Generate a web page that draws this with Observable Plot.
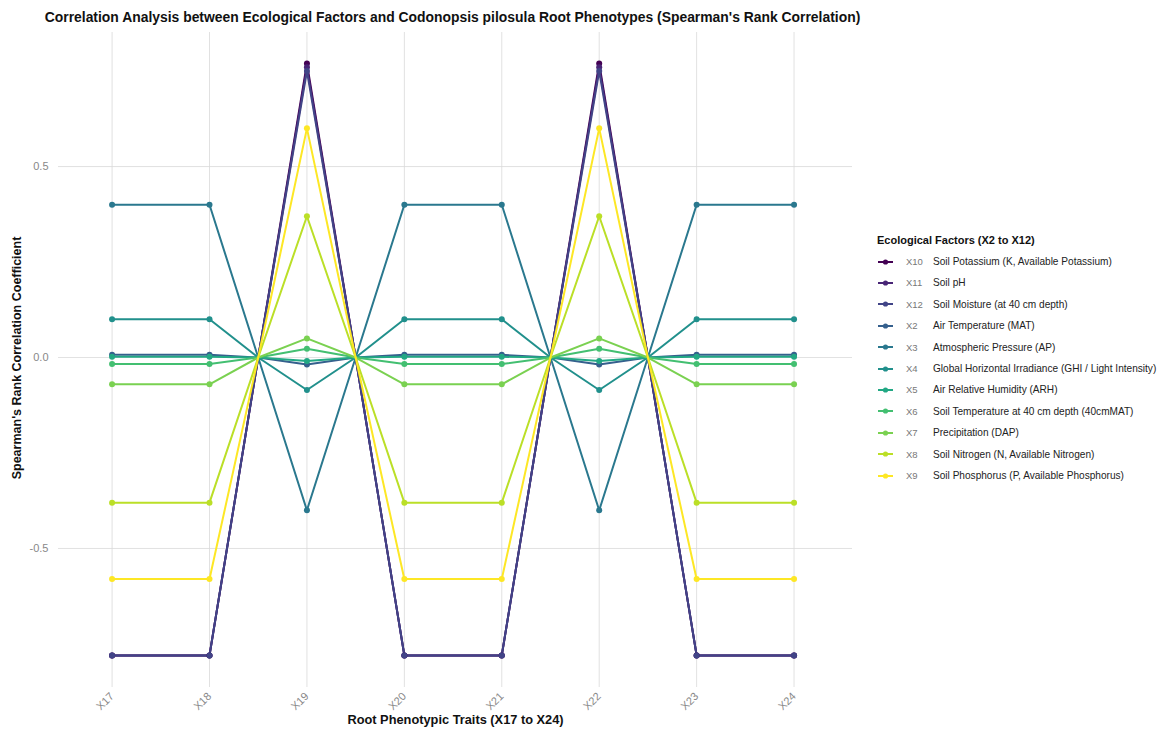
<!DOCTYPE html>
<html>
<head>
<meta charset="utf-8">
<script src="https://cdn.jsdelivr.net/npm/d3@7"></script>
<script src="https://cdn.jsdelivr.net/npm/@observablehq/plot@0.6"></script>
<style>
  body { margin: 0; background: #fff; }
  #wrap { position: relative; width: 1168px; height: 731px; font-family: "Liberation Sans", Arial, sans-serif; overflow: hidden; }
  #title { position: absolute; left: 0; top: 9px; width: 905px; text-align: center; font-weight: bold; font-size: 13.9px; color: #111; line-height: 17px; white-space: nowrap; }
  #chart { position: absolute; left: 0; top: 0; }
  #legend { position: absolute; left: 877px; top: 232px; }
  #legend .ttl { font-weight: bold; font-size: 11px; color: #111; height: 16px; line-height: 16px; margin-bottom: 3px; }
  #legend .row { position: relative; height: 21.4px; display: flex; align-items: center; }
  #legend .row svg { position: absolute; left: 0; top: 5.7px; }
  #legend .code { position: absolute; left: 29px; font-size: 9.5px; color: #777; line-height: 21.4px; }
  #legend .name { position: absolute; left: 56px; font-size: 10.1px; color: #222; line-height: 21.4px; white-space: nowrap; }
</style>
</head>
<body>
<div id="wrap">
  <div id="title"></div>
  <div id="chart"></div>
  <div id="legend"></div>
</div>
<script>
// ---------- data ----------
const chartTitle = "Correlation Analysis between Ecological Factors and Codonopsis pilosula Root Phenotypes (Spearman's Rank Correlation)";
const xTitle = "Root Phenotypic Traits (X17 to X24)";
const yTitle = "Spearman's Rank Correlation Coefficient";
const legendTitle = "Ecological Factors (X2 to X12)";

// trait positions along the x axis (half steps are the unlabeled zero crossings)
const traitIds = [17, 18, 18.5, 19, 19.5, 20, 21, 21.5, 22, 22.5, 23, 24];
const tickValues = [17, 18, 19, 20, 21, 22, 23, 24];
const tickLabels = ["X17", "X18", "X19", "X20", "X21", "X22", "X23", "X24"];
const yTicks = [-0.5, 0, 0.5];

const factorCodes = ["X10", "X11", "X12", "X2", "X3", "X4", "X5", "X6", "X7", "X8", "X9"];
const factorNames = [
  "Soil Potassium (K, Available Potassium)",
  "Soil pH",
  "Soil Moisture (at 40 cm depth)",
  "Air Temperature (MAT)",
  "Atmospheric Pressure (AP)",
  "Global Horizontal Irradiance (GHI / Light Intensity)",
  "Air Relative Humidity (ARH)",
  "Soil Temperature at 40 cm depth (40cmMAT)",
  "Precipitation (DAP)",
  "Soil Nitrogen (N, Available Nitrogen)",
  "Soil Phosphorus (P, Available Phosphorus)"
];
const factorColors = ["#440154", "#482576", "#414487", "#35608D", "#2A788E", "#21908C", "#22A884", "#43BF71", "#7AD151", "#BBDF27", "#FDE725"];

const valsX10 = [-0.78, -0.78, 0, 0.77, 0, -0.78, -0.78, 0, 0.77, 0, -0.78, -0.78];
const valsX11 = [-0.78, -0.78, 0, 0.76, 0, -0.78, -0.78, 0, 0.76, 0, -0.78, -0.78];
const valsX12 = [-0.78, -0.78, 0, 0.75, 0, -0.78, -0.78, 0, 0.75, 0, -0.78, -0.78];
const valsX2  = [0.007, 0.007, 0, -0.018, 0, 0.007, 0.007, 0, -0.018, 0, 0.007, 0.007];
const valsX3  = [0.40, 0.40, 0, -0.40, 0, 0.40, 0.40, 0, -0.40, 0, 0.40, 0.40];
const valsX4  = [0.10, 0.10, 0, -0.085, 0, 0.10, 0.10, 0, -0.085, 0, 0.10, 0.10];
const valsX5  = [0.002, 0.002, 0, -0.009, 0, 0.002, 0.002, 0, -0.009, 0, 0.002, 0.002];
const valsX6  = [-0.017, -0.017, 0, 0.023, 0, -0.017, -0.017, 0, 0.023, 0, -0.017, -0.017];
const valsX7  = [-0.07, -0.07, 0, 0.05, 0, -0.07, -0.07, 0, 0.05, 0, -0.07, -0.07];
const valsX8  = [-0.38, -0.38, 0, 0.37, 0, -0.38, -0.38, 0, 0.37, 0, -0.38, -0.38];
const valsX9  = [-0.58, -0.58, 0, 0.60, 0, -0.58, -0.58, 0, 0.60, 0, -0.58, -0.58];
const seriesValues = [valsX10, valsX11, valsX12, valsX2, valsX3, valsX4, valsX5, valsX6, valsX7, valsX8, valsX9];

// ---------- build ----------
const rows = [];
factorCodes.forEach((code, i) => {
  seriesValues[i].forEach((v, j) => rows.push({factor: code, trait: traitIds[j], value: v}));
});
const dotRows = rows.filter(d => tickValues.includes(d.trait));

document.getElementById("title").textContent = chartTitle;

const chart = Plot.plot({
  width: 865,
  height: 731,
  marginTop: 32,
  marginBottom: 44,
  marginLeft: 58,
  marginRight: 13,
  style: {fontFamily: "'Liberation Sans', Arial, sans-serif", background: "transparent"},
  x: {type: "linear", domain: [16.45, 24.6]},
  y: {domain: [-0.864, 0.851]},
  color: {domain: factorCodes, range: factorColors},
  marks: [
    Plot.gridX(tickValues, {stroke: "#d9d9d9", strokeOpacity: 1, strokeWidth: 0.8}),
    Plot.gridY(yTicks, {stroke: "#d9d9d9", strokeOpacity: 1, strokeWidth: 0.8}),
    Plot.axisX(tickValues, {
      tickSize: 0, tickPadding: 7, tickRotate: -45, label: null,
      tickFormat: d => tickLabels[tickValues.indexOf(d)],
      fill: "#888", fontSize: 11
    }),
    Plot.axisY(yTicks, {
      tickSize: 0, tickPadding: 10, label: null,
      tickFormat: d => d.toFixed(1),
      fill: "#888", fontSize: 11
    }),
    Plot.line(rows, {x: "trait", y: "value", z: "factor", stroke: "factor", strokeWidth: 2}),
    Plot.dot(dotRows, {x: "trait", y: "value", fill: "factor", r: 3}),
    Plot.text([xTitle], {frameAnchor: "bottom", dy: 36, fontWeight: "bold", fontSize: 12.8, fill: "#111"}),
    Plot.text([yTitle], {frameAnchor: "left", textAnchor: "middle", dx: -42, dy: -2, rotate: -90, fontWeight: "bold", fontSize: 12.5, fill: "#111"})
  ]
});
document.getElementById("chart").appendChild(chart);

// ---------- legend ----------
const legend = document.getElementById("legend");
const lt = document.createElement("div");
lt.className = "ttl";
lt.textContent = legendTitle;
legend.appendChild(lt);
factorCodes.forEach((code, i) => {
  const row = document.createElement("div");
  row.className = "row";
  row.innerHTML =
    `<svg width="17" height="10"><line x1="1" x2="16" y1="5" y2="5" stroke="${factorColors[i]}" stroke-width="2"/>` +
    `<circle cx="8.5" cy="5" r="2.6" fill="${factorColors[i]}"/></svg>` +
    `<span class="code">${code}</span><span class="name">${factorNames[i]}</span>`;
  legend.appendChild(row);
});
</script>
</body>
</html>
